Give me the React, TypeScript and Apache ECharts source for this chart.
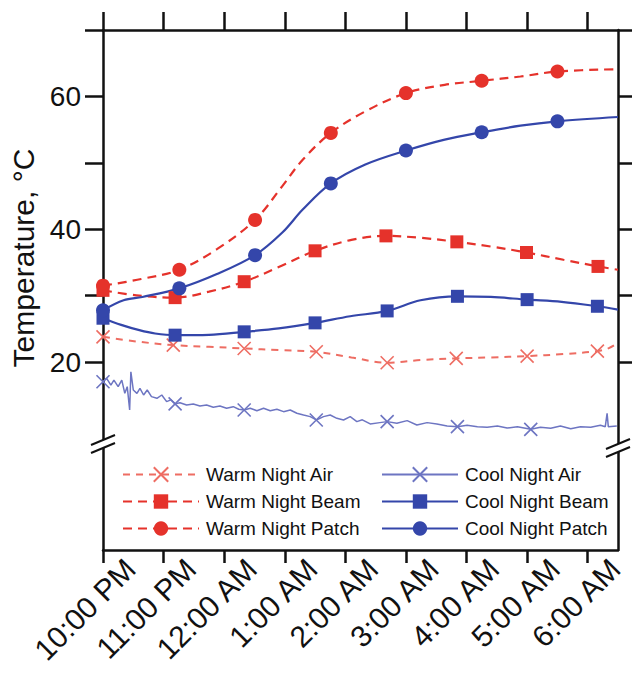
import React, { useEffect, useRef } from 'react';
import * as echarts from 'echarts';

// Axis ticks and labels (time in hours: 22 = 10:00 PM, 30 = 6:00 AM)
const hourTicks = [22, 23, 24, 25, 26, 27, 28, 29, 30];
const hourLabels = ['10:00 PM', '11:00 PM', '12:00 AM', '1:00 AM', '2:00 AM', '3:00 AM', '4:00 AM', '5:00 AM', '6:00 AM'];
const tempTicks = [20, 30, 40, 50, 60, 70];
const tempLabels = [20, 40, 60];

// Series: [hour, °C]
const warmAir = [[22.0, 23.8], [22.55, 23.1], [23.16, 22.55], [23.75, 22.3], [24.33, 22.05], [24.9, 21.8], [25.52, 21.55], [26.1, 20.7], [26.69, 19.9], [27.25, 20.3], [27.83, 20.55], [28.4, 20.7], [29.0, 20.9], [29.6, 21.2], [30.16, 21.65], [30.35, 22.1], [30.5, 22.9]];
const warmAirMarks = [22.0, 23.16, 24.33, 25.52, 26.69, 27.83, 29.0, 30.16];

const warmBeam = [[22.0, 30.8], [22.6, 30.0], [23.19, 29.7], [23.75, 30.6], [24.33, 32.1], [24.9, 34.3], [25.5, 36.75], [26.1, 38.4], [26.67, 39.0], [27.25, 38.7], [27.84, 38.1], [28.4, 37.4], [28.99, 36.5], [29.6, 35.4], [30.17, 34.4], [30.5, 33.9]];
const warmBeamMarks = [22.0, 23.19, 24.33, 25.5, 26.67, 27.84, 28.99, 30.17];

const warmPatch = [[22.0, 31.5], [22.63, 32.5], [23.26, 33.9], [23.88, 37.0], [24.51, 41.4], [24.96, 46.5], [25.3, 50.5], [25.76, 54.5], [26.33, 57.75], [27.0, 60.5], [27.64, 61.75], [28.25, 62.35], [28.89, 63.0], [29.5, 63.75], [30.5, 64.1]];
const warmPatchMarks = [22.0, 23.26, 24.51, 25.76, 27.0, 28.25, 29.5];

const coolAir = [[22.0, 17.04], [22.06, 17.54], [22.13, 16.54], [22.18, 17.29], [22.25, 16.29], [22.31, 17.29], [22.36, 15.29], [22.4, 16.29], [22.44, 12.78], [22.46, 18.54], [22.5, 15.79], [22.56, 15.29], [22.61, 16.04], [22.67, 15.04], [22.73, 15.79], [22.8, 14.79], [22.89, 14.54], [22.97, 15.04], [23.05, 14.04], [23.12, 14.3], [23.19, 13.7], [23.27, 13.88], [23.38, 13.53], [23.49, 13.68], [23.6, 13.38], [23.71, 13.53], [23.82, 13.19], [23.93, 13.38], [24.04, 13.04], [24.15, 13.28], [24.24, 12.9], [24.33, 12.78], [24.43, 13.04], [24.54, 12.68], [24.65, 13.04], [24.76, 12.68], [24.87, 12.89], [24.98, 12.53], [25.09, 12.78], [25.2, 12.29], [25.31, 12.03], [25.42, 11.78], [25.52, 11.28], [25.64, 11.78], [25.75, 12.03], [25.86, 11.53], [25.97, 11.28], [26.08, 11.78], [26.19, 11.03], [26.28, 11.3], [26.41, 10.68], [26.57, 10.88], [26.69, 11.03], [26.85, 10.78], [27.02, 11.18], [27.18, 10.53], [27.35, 10.88], [27.51, 10.68], [27.68, 10.38], [27.85, 10.27], [28.01, 10.48], [28.18, 10.27], [28.34, 10.17], [28.51, 10.38], [28.67, 10.07], [28.84, 10.27], [29.06, 9.87], [29.22, 10.17], [29.39, 10.02], [29.55, 10.38], [29.72, 9.97], [29.88, 10.27], [30.05, 10.17], [30.21, 10.48], [30.29, 10.27], [30.32, 12.28], [30.34, 10.27], [30.48, 10.38]];
const coolAirMarks = [22.0, 23.19, 24.33, 25.52, 26.69, 27.85, 29.06];

const coolBeam = [[22.0, 26.6], [22.3, 25.6], [22.6, 24.8], [22.86, 24.3], [23.19, 24.05], [23.75, 24.1], [24.33, 24.55], [24.9, 25.06], [25.5, 25.9], [26.08, 26.9], [26.69, 27.7], [27.24, 29.3], [27.85, 29.9], [28.4, 29.8], [29.0, 29.4], [29.57, 29.07], [30.16, 28.4], [30.5, 27.9]];
const coolBeamMarks = [22.0, 23.19, 24.33, 25.5, 26.69, 27.85, 29.0, 30.16];

const coolPatch = [[22.0, 27.8], [22.34, 29.3], [22.65, 29.8], [23.26, 31.1], [23.88, 33.25], [24.51, 36.1], [24.96, 39.5], [25.3, 43.0], [25.76, 46.9], [26.33, 49.75], [27.0, 51.85], [27.64, 53.5], [28.25, 54.6], [28.89, 55.6], [29.5, 56.25], [30.5, 56.9]];
const coolPatchMarks = [22.0, 23.26, 24.51, 25.76, 27.0, 28.25, 29.5];

const RED = '#e5322b';
const RED_LIGHT = '#ee6d63';
const BLUE = '#3446aa';
const BLUE_LIGHT = '#6d75c2';
const INK = '#111111';
const FONT = '"Liberation Sans", Arial, Helvetica, sans-serif';
const XMARK = 'path://M0,0L10,10M10,0L0,10';
const X_MIN = 22;
const X_MAX = 30.5;
const LABEL_SHIFT = 0.45; // hours: rotated labels sit a little right of their ticks

function toData(points: number[][], marks: number[]) {
  return points.map(([t, v]) =>
    marks.indexOf(t) >= 0 ? { value: [t, v] } : { value: [t, v], symbol: 'none' }
  );
}

function hourLabel(v: number) {
  const i = hourTicks.indexOf(v);
  return i >= 0 ? hourLabels[i] : '';
}

export default function App() {
  const ref = useRef<HTMLDivElement>(null);

  useEffect(() => {
    if (!ref.current) return;
    const chart = echarts.init(ref.current, null, { renderer: 'svg' });

    const axisLineStyle = { color: INK, width: 2.5 };
    const xBase = {
      type: 'value',
      min: X_MIN,
      max: X_MAX,
      splitLine: { show: false },
      axisLine: { show: true, onZero: false, lineStyle: axisLineStyle },
    };
    const yBase = {
      type: 'value',
      min: -8.3,
      max: 70,
      splitLine: { show: false },
      axisLine: { show: true, onZero: false, lineStyle: axisLineStyle },
    };

    const lineCommon = {
      type: 'line',
      xAxisIndex: 0,
      yAxisIndex: 0,
      emphasis: { disabled: true },
      z: 3,
    };

    const legendText = { fontSize: 19, color: INK, fontFamily: FONT, padding: [0, 0, 0, 2] };

    const option: any = {
      animation: false,
      backgroundColor: '#ffffff',
      grid: { left: 103, right: 17, top: 30, bottom: 125 },
      xAxis: [
        {
          ...xBase,
          position: 'bottom',
          axisTick: { show: true, customValues: hourTicks, length: 13, lineStyle: axisLineStyle },
          axisLabel: { show: false },
        },
        {
          ...xBase,
          position: 'top',
          axisTick: { show: true, customValues: hourTicks, length: 18, lineStyle: axisLineStyle },
          axisLabel: { show: false },
        },
        {
          type: 'value',
          position: 'bottom',
          min: X_MIN - LABEL_SHIFT,
          max: X_MAX - LABEL_SHIFT,
          splitLine: { show: false },
          axisLine: { show: false, onZero: false },
          axisTick: { show: false },
          axisLabel: {
            customValues: hourTicks,
            formatter: hourLabel,
            rotate: 45,
            fontSize: 30,
            color: INK,
            fontFamily: FONT,
            margin: 14,
          },
        },
      ],
      yAxis: [
        {
          ...yBase,
          position: 'left',
          name: 'Temperature, °C',
          nameLocation: 'middle',
          nameGap: 62,
          nameTextStyle: { fontSize: 30, color: INK, fontFamily: FONT, padding: [0, 0, 0, 64] },
          axisTick: { show: true, customValues: tempTicks, length: 18, lineStyle: axisLineStyle },
          axisLabel: { customValues: tempLabels, fontSize: 28, color: INK, fontFamily: FONT, margin: 22 },
        },
        {
          ...yBase,
          position: 'right',
          axisTick: { show: true, customValues: tempTicks, length: 14, lineStyle: axisLineStyle },
          axisLabel: { show: false },
        },
      ],
      legend: [
        {
          data: ['Warm Night Air', 'Warm Night Beam', 'Warm Night Patch'],
          orient: 'vertical',
          left: 117,
          top: 460,
          itemWidth: 76,
          itemHeight: 18,
          itemGap: 8,
          selectedMode: false,
          textStyle: legendText,
        },
        {
          data: ['Cool Night Air', 'Cool Night Beam', 'Cool Night Patch'],
          orient: 'vertical',
          left: 376,
          top: 460,
          itemWidth: 76,
          itemHeight: 18,
          itemGap: 8,
          selectedMode: false,
          textStyle: legendText,
        },
      ],
      series: [
        {
          ...lineCommon,
          name: 'Cool Night Air',
          data: toData(coolAir, coolAirMarks),
          smooth: false,
          symbol: XMARK,
          symbolSize: 13,
          lineStyle: { color: BLUE_LIGHT, width: 1.5 },
          itemStyle: { color: 'rgba(0,0,0,0)', borderColor: BLUE_LIGHT, borderWidth: 1.6 },
        },
        {
          ...lineCommon,
          name: 'Warm Night Air',
          data: toData(warmAir, warmAirMarks),
          smooth: 0.35,
          symbol: XMARK,
          symbolSize: 13,
          lineStyle: { color: RED_LIGHT, width: 2, type: [7, 6] },
          itemStyle: { color: 'rgba(0,0,0,0)', borderColor: RED_LIGHT, borderWidth: 1.6 },
        },
        {
          ...lineCommon,
          name: 'Cool Night Beam',
          data: toData(coolBeam, coolBeamMarks),
          smooth: 0.35,
          symbol: 'rect',
          symbolSize: 13,
          lineStyle: { color: BLUE, width: 2.2 },
          itemStyle: { color: BLUE },
        },
        {
          ...lineCommon,
          name: 'Warm Night Beam',
          data: toData(warmBeam, warmBeamMarks),
          smooth: 0.35,
          symbol: 'rect',
          symbolSize: 13,
          lineStyle: { color: RED, width: 2.2, type: [9, 6] },
          itemStyle: { color: RED },
        },
        {
          ...lineCommon,
          name: 'Cool Night Patch',
          data: toData(coolPatch, coolPatchMarks),
          smooth: 0.35,
          symbol: 'circle',
          symbolSize: 14,
          lineStyle: { color: BLUE, width: 2.2 },
          itemStyle: { color: BLUE },
        },
        {
          ...lineCommon,
          name: 'Warm Night Patch',
          data: toData(warmPatch, warmPatchMarks),
          smooth: 0.35,
          symbol: 'circle',
          symbolSize: 14,
          lineStyle: { color: RED, width: 2.2, type: [9, 6] },
          itemStyle: { color: RED },
        },
      ],
      graphic: [
        // axis break marks, left
        {
          type: 'polygon',
          z: 100,
          shape: { points: [[91, 445], [115, 435], [115, 443], [91, 453]] },
          style: { fill: '#ffffff', stroke: 'none' },
        },
        { type: 'line', z: 101, shape: { x1: 91, y1: 445, x2: 115, y2: 435 }, style: { stroke: INK, lineWidth: 2 } },
        { type: 'line', z: 101, shape: { x1: 91, y1: 453, x2: 115, y2: 443 }, style: { stroke: INK, lineWidth: 2 } },
        // axis break marks, right
        {
          type: 'polygon',
          z: 100,
          shape: { points: [[606, 449], [630, 439], [630, 447], [606, 457]] },
          style: { fill: '#ffffff', stroke: 'none' },
        },
        { type: 'line', z: 101, shape: { x1: 606, y1: 449, x2: 630, y2: 439 }, style: { stroke: INK, lineWidth: 2 } },
        { type: 'line', z: 101, shape: { x1: 606, y1: 457, x2: 630, y2: 447 }, style: { stroke: INK, lineWidth: 2 } },
      ],
    };

    chart.setOption(option);
    return () => chart.dispose();
  }, []);

  return (
    <div
      ref={ref}
      style={{ position: 'fixed', left: 0, top: 0, width: 635, height: 675, background: '#ffffff' }}
    />
  );
}
